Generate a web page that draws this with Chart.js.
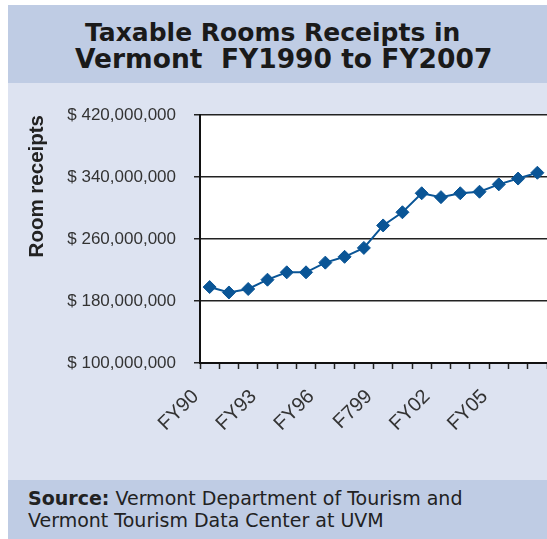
<!DOCTYPE html>
<html>
<head>
<meta charset="utf-8">
<title>Taxable Rooms Receipts in Vermont</title>
<script src="https://cdn.jsdelivr.net/npm/chart.js@4.4.0/dist/chart.umd.min.js"></script>
<style>
  body { margin: 0; background: #fff; overflow: hidden; }
  #wrap { position: absolute; left: 8px; top: 5px; width: 539px; height: 534px; }
  #head { position: relative; height: 78px; background: rgb(191, 204, 228);
          font-family: "DejaVu Sans", Verdana, sans-serif; font-weight: bold; color: #1a1a1a; }
  #head div { position: absolute; white-space: pre; line-height: 30px; }
  #panel { position: relative; height: 397px; background: rgb(221, 227, 241); }
  #foot { position: relative; height: 59px; background: rgb(191, 204, 228);
          font: 19px "DejaVu Sans", Verdana, sans-serif; color: #222; }
  #foot div { position: absolute; left: 20px; white-space: pre; line-height: 22px; }
</style>
</head>
<body>
<div id="wrap">
  <div id="head">
    <div style="left:77px; top:13px; font-size:25px;">Taxable Rooms Receipts in</div>
    <div style="left:67px; top:39px; font-size:26.5px;">Vermont  FY1990 to FY2007</div>
  </div>
  <div id="panel"><canvas id="roomsChart" width="539" height="397"></canvas></div>
  <div id="foot">
    <div style="top:7px;"><b>Source:</b> Vermont Department of Tourism and</div>
    <div style="top:29px;">Vermont Tourism Data Center at UVM</div>
  </div>
</div>
<script>
// fiscal years 1990 - 2007
var years = ['FY90', 'FY91', 'FY92', 'FY93', 'FY94', 'FY95', 'FY96', 'FY97', 'FY98',
             'FY99', 'FY00', 'FY01', 'FY02', 'FY03', 'FY04', 'FY05', 'FY06', 'FY07'];
// only every third year gets a label on the axis
var yearTicks = ['FY90', 'FY93', 'FY96', 'F799', 'FY02', 'FY05'];
// taxable room receipts, dollars
var receipts = [198e6, 191e6, 195.5e6, 207.5e6, 217e6, 217e6, 229.5e6, 237e6, 248.5e6,
                277.5e6, 294.5e6, 319e6, 314e6, 319e6, 321e6, 330.5e6, 338e6, 345.5e6];
var yMin = 100e6, yMax = 420e6, yStep = 80e6;

var lineBlue = '#0a5596';

// white plot area on the tinted panel
var plotBg = {
    id: 'plotBg',
    beforeDraw: function (chart) {
        var a = chart.chartArea, ctx = chart.ctx;
        ctx.save();
        ctx.fillStyle = '#fff';
        ctx.fillRect(a.left, a.top, a.right - a.left, a.bottom - a.top);
        ctx.restore();
    }
};

var ctx = document.getElementById('roomsChart').getContext('2d');
var chart = new Chart(ctx, {
    type: 'line',
    data: {
        labels: years,
        datasets: [{
            label: 'Room receipts',
            data: receipts,
            borderColor: lineBlue,
            backgroundColor: lineBlue,
            borderWidth: 2,
            tension: 0,
            pointStyle: 'rectRot',
            pointRadius: 6.5,
            pointBorderWidth: 1
        }]
    },
    options: {
        responsive: false,
        animation: false,
        devicePixelRatio: 1,
        layout: { autoPadding: false, padding: { left: 17, top: 32, right: 0, bottom: 0 } },
        plugins: {
            legend: { display: false },
            tooltip: { enabled: false }
        },
        scales: {
            x: {
                offset: true,
                grid: { offset: true, drawOnChartArea: false, tickLength: 6, tickColor: '#222', tickWidth: 1.5 },
                border: { color: '#111', width: 2 },
                ticks: {
                    autoSkip: false,
                    minRotation: 45,
                    maxRotation: 45,
                    padding: 16,
                    labelOffset: -14,
                    color: '#333',
                    font: { family: 'Liberation Sans', size: 20 },
                    callback: function (v, i) { return i % 3 === 0 ? yearTicks[i / 3] : ''; }
                },
                afterFit: function (s) {
                    s.height = 117;
                    s.paddingLeft = 0;
                    s.paddingRight = 0;
                }
            },
            y: {
                min: yMin,
                max: yMax,
                ticks: {
                    stepSize: yStep,
                    padding: 18,
                    color: '#333',
                    font: { family: 'Liberation Sans', size: 17 },
                    callback: function (v) { return '$ ' + v.toLocaleString('en-US'); }
                },
                grid: { color: '#222', lineWidth: 1.5, tickLength: 6, tickColor: '#222' },
                border: { color: '#111', width: 2 },
                title: {
                    display: true,
                    text: 'Room receipts',
                    align: 'end',
                    color: '#222',
                    padding: 0,
                    font: { family: 'Liberation Sans', size: 20.5, weight: 'bold' }
                },
                afterFit: function (s) {
                    s.width = 175;
                    s.paddingTop = 0;
                    s.paddingBottom = 0;
                }
            }
        }
    },
    plugins: [plotBg]
});
</script>
</body>
</html>
